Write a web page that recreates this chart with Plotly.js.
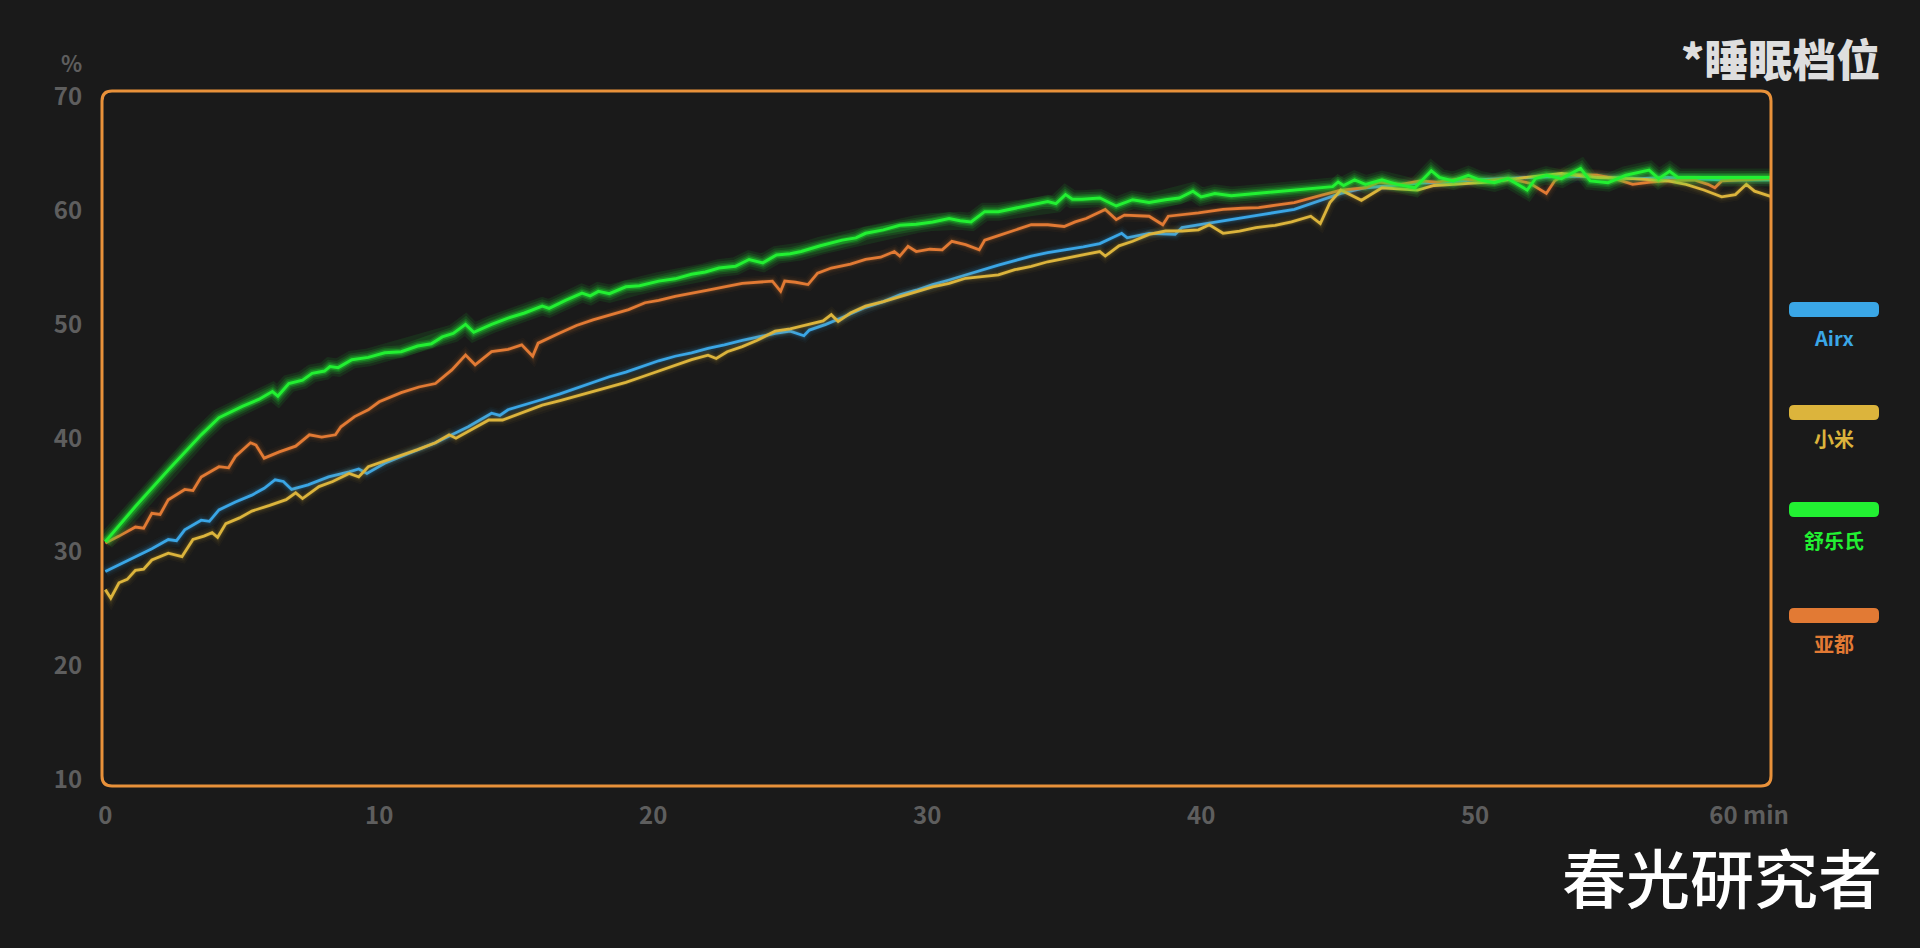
<!DOCTYPE html>
<html>
<head>
<meta charset="utf-8">
<script src="https://cdn.plot.ly/plotly-3.0.1.min.js"></script>
<style>
html,body{margin:0;padding:0;background:#1a1a1a;}
#chart{width:1920px;height:948px;}
</style>
</head>
<body>
<div id="chart"></div>
<script>
// ---- Data (minutes / humidity %) ----
const seriesNames = ["Airx", "小米", "舒乐氏", "亚都"];
const seriesColors = ["#3aa6e6", "#dcb43c", "#22f032", "#e27a34"];

const airxX = [0,0.5,1.1,1.7,2.3,2.6,2.9,3.5,3.8,4.15,4.75,5.35,5.8,6.2,6.5,6.8,7.4,8.15,8.9,9.25,9.55,10.2,10.8,11.45,12.05,12.65,13.25,14.1,14.4,14.7,15.3,15.95,16.6,17.2,17.8,18.4,19.0,19.6,20.2,20.8,21.4,22.0,22.6,23.25,23.8,24.45,25.0,25.5,25.7,26.3,26.9,27.3,27.75,28.4,29.0,29.6,30.2,30.8,31.4,32.0,32.6,33.2,33.8,34.4,35.05,35.7,36.3,37.1,37.3,38.1,39.05,39.3,39.9,40.5,41.1,42.1,43.4,44.4,45.1,46.0,47.0,48.0,49.0,50.0,51.0,52.0,53.0,54.0,55.0,56.0,57.0,58.0,59.0,60.85];
const airxY = [28.3,28.9,29.6,30.3,31.1,31.0,31.95,32.8,32.7,33.7,34.4,35.0,35.6,36.35,36.2,35.5,35.9,36.6,37.05,37.3,36.9,37.8,38.4,39.0,39.6,40.3,41.0,42.2,42.0,42.5,42.9,43.4,43.9,44.4,44.9,45.4,45.8,46.3,46.8,47.2,47.5,47.9,48.2,48.6,48.9,49.2,49.4,49.0,49.5,50.0,50.6,51.0,51.5,52.0,52.6,53.0,53.5,53.9,54.35,54.8,55.2,55.6,56.0,56.3,56.55,56.8,57.1,58.0,57.6,58.0,57.9,58.5,58.75,59.0,59.2,59.6,60.1,60.9,61.5,62.0,62.2,62.4,62.5,62.7,62.8,62.9,63.0,63.0,62.9,62.8,62.9,62.8,62.7,62.7];

const xiaomiX = [0,0.2,0.5,0.8,1.1,1.4,1.7,2.3,2.8,3.2,3.6,3.9,4.1,4.4,4.9,5.35,6.0,6.6,6.95,7.2,7.8,8.3,8.9,9.25,9.6,10.2,10.85,11.4,12.05,12.55,12.8,13.25,14.0,14.5,14.85,15.4,15.95,16.6,17.2,17.8,18.4,19.0,19.6,20.2,20.8,21.4,22.0,22.3,22.7,23.25,23.8,24.45,25.0,25.7,26.2,26.5,26.75,27.2,27.75,28.4,29.0,29.6,30.2,30.8,31.4,32.0,32.6,33.2,33.8,34.4,35.05,35.7,36.3,36.5,37.0,37.5,38.1,38.7,39.3,39.9,40.3,40.8,41.4,42.0,42.7,43.3,44.0,44.35,44.7,45.1,45.5,45.85,46.6,47.2,47.9,48.5,49.2,50.5,51.8,53.15,54.45,55.75,57.05,57.7,58.35,59.0,59.5,59.9,60.2,60.85];
const xiaomiY = [26.7,25.95,27.3,27.6,28.4,28.5,29.3,29.9,29.6,31.1,31.4,31.7,31.3,32.5,33.0,33.6,34.1,34.6,35.2,34.7,35.75,36.2,36.9,36.6,37.5,38.0,38.5,39.0,39.6,40.3,40.0,40.6,41.6,41.6,41.9,42.4,42.9,43.3,43.7,44.1,44.5,44.9,45.4,45.9,46.45,46.9,47.3,47.0,47.6,48.05,48.6,49.4,49.6,50.0,50.3,50.85,50.25,51.0,51.6,52.0,52.45,52.9,53.3,53.6,54.05,54.2,54.35,54.8,55.1,55.5,55.8,56.1,56.4,56.0,56.9,57.3,57.9,58.2,58.2,58.3,58.75,58.0,58.2,58.5,58.7,59.0,59.5,58.85,60.7,61.8,61.3,60.9,62.0,61.9,61.8,62.2,62.3,62.5,62.9,63.25,62.9,62.8,62.6,62.3,61.8,61.2,61.4,62.3,61.7,61.2];

const shuleX = [0,1.1,2.3,3.5,4.15,5.0,5.6,6.1,6.3,6.7,7.2,7.55,8.0,8.2,8.5,9.0,9.6,10.2,10.8,11.4,11.9,12.3,12.7,13.15,13.45,14.1,14.7,15.3,15.95,16.2,16.8,17.4,17.7,18.0,18.4,19.0,19.5,20.2,20.8,21.4,21.9,22.4,23.0,23.5,24.0,24.5,25.0,25.4,26.1,26.9,27.4,27.75,28.4,29.0,29.6,30.2,30.8,31.2,31.6,32.1,32.6,33.2,33.8,34.4,34.7,35.05,35.3,35.65,36.3,36.9,37.5,38.1,38.7,39.2,39.7,40.0,40.5,41.1,44.8,45.0,45.2,45.6,46.0,46.6,47.15,47.8,48.4,48.7,49.2,49.75,50.15,50.7,51.2,51.9,52.2,52.6,53.15,53.85,54.2,54.85,55.5,56.35,56.7,57.1,57.4,60.85];
const shuleY = [30.9,34.0,37.2,40.3,41.8,42.8,43.4,44.1,43.7,44.8,45.1,45.7,45.9,46.3,46.2,46.9,47.1,47.5,47.6,48.1,48.3,48.9,49.2,50.0,49.3,50.0,50.55,51.0,51.6,51.4,52.1,52.75,52.5,52.9,52.7,53.3,53.4,53.8,54.0,54.4,54.6,54.95,55.1,55.7,55.4,56.1,56.2,56.4,56.9,57.4,57.6,58.0,58.3,58.7,58.8,59.0,59.3,59.1,59.0,59.9,59.9,60.2,60.5,60.8,60.6,61.4,61.0,61.0,61.1,60.4,60.95,60.7,60.95,61.1,61.7,61.2,61.5,61.3,62.1,62.5,62.2,62.7,62.3,62.7,62.3,62.0,63.5,62.9,62.6,63.1,62.7,62.45,62.8,61.8,62.8,63.1,62.8,63.7,62.6,62.45,63.1,63.55,62.8,63.45,62.9,62.9];

const yaduX = [0,0.5,1.1,1.4,1.7,2.0,2.3,2.9,3.2,3.5,4.15,4.5,4.75,5.3,5.5,5.8,6.35,6.95,7.45,7.9,8.4,8.6,9.1,9.6,10.0,10.8,11.45,12.05,12.65,13.15,13.5,14.1,14.7,15.2,15.6,15.8,16.55,17.2,17.8,18.4,19.1,19.7,20.2,20.8,21.4,22.0,22.6,23.25,24.35,24.65,24.8,25.2,25.65,26.0,26.5,27.2,27.75,28.3,28.8,29.0,29.3,29.6,30.1,30.55,30.9,31.4,31.9,32.1,32.6,33.2,33.8,34.4,35.0,35.4,35.8,36.5,36.9,37.2,38.1,38.6,38.8,39.9,40.8,41.5,42.1,42.8,43.4,44.4,45.1,46.0,46.5,47.3,48.0,48.6,49.5,50.3,51.2,52.0,52.6,52.9,53.3,54.45,55.1,55.75,56.4,57.05,58.0,58.5,58.75,59.0,60.0,60.85];
const yaduY = [30.8,31.4,32.2,32.1,33.4,33.3,34.6,35.5,35.4,36.6,37.5,37.4,38.4,39.6,39.4,38.25,38.8,39.3,40.3,40.1,40.3,41.0,41.9,42.5,43.2,44.0,44.5,44.8,46.0,47.3,46.45,47.6,47.8,48.2,47.2,48.35,49.2,49.9,50.4,50.8,51.3,51.9,52.1,52.45,52.7,53.0,53.3,53.6,53.8,52.9,53.8,53.7,53.5,54.5,54.95,55.3,55.7,55.9,56.4,56.0,56.85,56.4,56.6,56.55,57.3,57.0,56.55,57.4,57.8,58.3,58.75,58.75,58.6,59.0,59.3,60.1,59.2,59.6,59.5,58.75,59.5,59.8,60.1,60.2,60.25,60.5,60.7,61.35,61.8,62.0,62.5,62.3,62.6,62.5,62.8,62.6,62.8,62.4,61.5,62.6,63.2,63.1,62.8,62.3,62.5,62.6,62.7,62.3,62.0,62.6,62.7,62.8];

const xTickVals = [0,10,20,30,40,50,60];
const xTickText = ["0","10","20","30","40","50","60 min"];
const yTickVals = [10,20,30,40,50,60,70];

// ---- Layout helpers (pixel -> paper) ----
const W = 1920, H = 948;
const M = {l:102, r:149, t:91, b:162};
const PW = W - M.l - M.r, PH = H - M.t - M.b;
const px = v => (v - M.l) / PW;
const py = v => (H - M.b - v) / PH;
function roundRect(x0, y0, x1, y1, r) {
  const X = px, Y = py;
  return `M ${X(x0+r)} ${Y(y0)} L ${X(x1-r)} ${Y(y0)} Q ${X(x1)} ${Y(y0)} ${X(x1)} ${Y(y0+r)} ` +
         `L ${X(x1)} ${Y(y1-r)} Q ${X(x1)} ${Y(y1)} ${X(x1-r)} ${Y(y1)} ` +
         `L ${X(x0+r)} ${Y(y1)} Q ${X(x0)} ${Y(y1)} ${X(x0)} ${Y(y1-r)} ` +
         `L ${X(x0)} ${Y(y0+r)} Q ${X(x0)} ${Y(y0)} ${X(x0+r)} ${Y(y0)} Z`;
}

const FONT = "'Noto Sans CJK SC', 'Noto Sans', sans-serif";
const xs = [airxX, xiaomiX, shuleX, yaduX];
const ys = [airxY, xiaomiY, shuleY, yaduY];
const order = [0, 3, 1, 2]; // draw order: blue, orange, yellow, green on top
const glowScale = [0.8, 0.75, 1.9, 0.8];
const glowLayers = [{w: 18, o: 0.05}, {w: 13, o: 0.07}, {w: 9, o: 0.1}, {w: 6, o: 0.16}];

const traces = [];
order.forEach(i => {
  glowLayers.forEach(g => {
    traces.push({x: xs[i], y: ys[i], mode: 'lines', hoverinfo: 'skip', showlegend: false,
      line: {color: seriesColors[i], width: i === 2 ? g.w : g.w * 0.7}, opacity: g.o * glowScale[i]});
  });
  traces.push({x: xs[i], y: ys[i], mode: 'lines', name: seriesNames[i], showlegend: false,
    line: {color: seriesColors[i], width: i === 2 ? 3 : 2.8}});
});

const shapes = [
  {type: 'path', xref: 'paper', yref: 'paper', path: roundRect(102, 91, 1771, 786, 10),
   line: {color: '#e8913a', width: 3}, layer: 'above'}
];
const legendRows = [302, 405, 502, 608];
const legendText = [337, 439, 540, 643];
const annotations = [
  {xref: 'paper', yref: 'paper', x: px(71), y: py(62), text: '%', showarrow: false,
   font: {family: FONT, size: 22, color: '#5e5e5e', weight: 700}, xanchor: 'center', yanchor: 'middle'},
  {xref: 'paper', yref: 'paper', x: px(1882), y: py(58), text: '*睡眠档位', showarrow: false,
   font: {family: FONT, size: 44, color: '#dedede', weight: 900}, xanchor: 'right', yanchor: 'middle'},
  {xref: 'paper', yref: 'paper', x: px(1884), y: py(875), text: '春光研究者', showarrow: false,
   font: {family: FONT, size: 64, color: '#ffffff', weight: 500}, xanchor: 'right', yanchor: 'middle'}
];
seriesNames.forEach((n, i) => {
  shapes.push({type: 'path', xref: 'paper', yref: 'paper',
    path: roundRect(1789, legendRows[i], 1879, legendRows[i] + 15, 5),
    fillcolor: seriesColors[i], line: {width: 0}});
  annotations.push({xref: 'paper', yref: 'paper', x: px(1834), y: py(legendText[i]), text: n,
    showarrow: false, xanchor: 'center', yanchor: 'middle',
    font: {family: FONT, size: 20, color: seriesColors[i], weight: 700}});
});

const axisFont = {family: FONT, size: 24, color: '#5e5e5e', weight: 700};
const layout = {
  width: W, height: H,
  paper_bgcolor: '#1a1a1a', plot_bgcolor: '#1a1a1a',
  margin: M,
  showlegend: false,
  hovermode: false,
  xaxis: {range: [-0.12, 60.8], tickvals: xTickVals, ticktext: xTickText, showgrid: false,
    zeroline: false, showline: false, ticks: 'outside', ticklen: 8, tickcolor: 'rgba(0,0,0,0)',
    tickfont: axisFont, fixedrange: true},
  yaxis: {range: [9.45, 70.5], tickvals: yTickVals, showgrid: false, zeroline: false,
    showline: false, ticks: 'outside', ticklen: 14, tickcolor: 'rgba(0,0,0,0)',
    tickfont: axisFont, fixedrange: true},
  shapes: shapes,
  annotations: annotations
};
Plotly.newPlot('chart', traces, layout, {displayModeBar: false, staticPlot: true});
</script>
</body>
</html>
